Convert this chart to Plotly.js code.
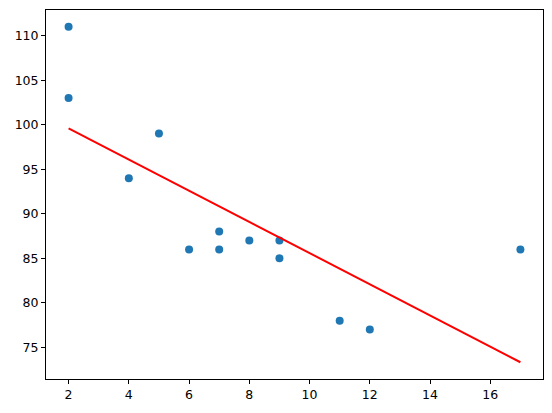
<!DOCTYPE html>
<html>
<head>
<meta charset="utf-8">
<script src="https://cdn.plot.ly/plotly-3.0.1.min.js"></script>
<style>
  html, body { margin: 0; padding: 0; background: #fff; }
  #plot { width: 552px; height: 413px; }
</style>
</head>
<body>
<div id="plot"></div>
<script>
// observed points
const xs = [5, 7, 8, 7, 2, 17, 2, 9, 4, 11, 12, 9, 6];
const ys = [99, 86, 87, 88, 111, 86, 103, 87, 94, 78, 77, 85, 86];

// fitted regression line (end points)
const fitX = [2, 17];
const fitY = [99.6, 73.33];

const axisFont = { family: "DejaVu Sans", size: 12.5, color: "#000" };

const scatter = {
  x: xs,
  y: ys,
  mode: "markers",
  type: "scatter",
  marker: { color: "#1f77b4", size: 8 },
  showlegend: false,
};

const fit = {
  x: fitX,
  y: fitY,
  mode: "lines",
  type: "scatter",
  line: { color: "#ff0000", width: 2 },
  showlegend: false,
};

Plotly.newPlot(
  "plot",
  [scatter, fit],
  {
    width: 552,
    height: 413,
    margin: { l: 46, r: 9, t: 10, b: 34 },
    paper_bgcolor: "#fff",
    plot_bgcolor: "#fff",
    xaxis: {
      range: [1.25, 17.75],
      tickvals: [2, 4, 6, 8, 10, 12, 14, 16],
      ticks: "outside",
      ticklen: 4,
      tickwidth: 1,
      tickcolor: "#000",
      showgrid: false,
      zeroline: false,
      showline: true,
      linecolor: "#000",
      linewidth: 1,
      mirror: true,
      tickfont: axisFont,
    },
    yaxis: {
      range: [71.45, 112.88],
      tickvals: [75, 80, 85, 90, 95, 100, 105, 110],
      ticks: "outside",
      ticklen: 4,
      tickwidth: 1,
      tickcolor: "#000",
      showgrid: false,
      zeroline: false,
      showline: true,
      linecolor: "#000",
      linewidth: 1,
      mirror: true,
      tickfont: axisFont,
    },
  },
  { staticPlot: true, displayModeBar: false }
);
</script>
</body>
</html>
